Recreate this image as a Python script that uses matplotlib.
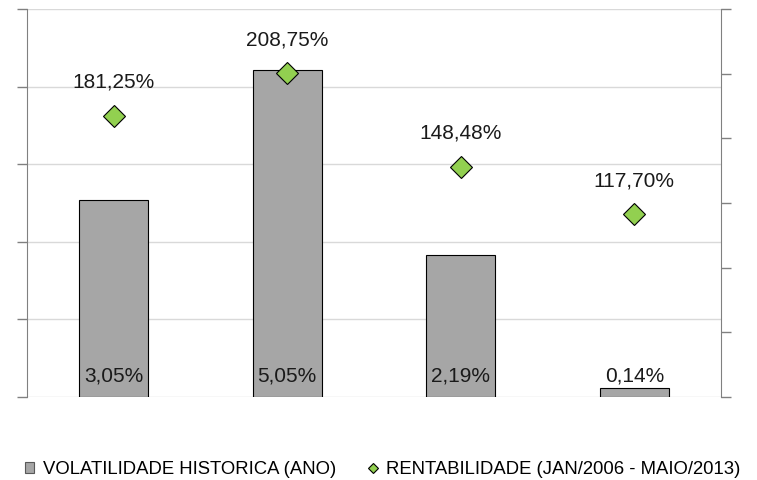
import matplotlib.pyplot as plt
import numpy as np

plt.rcParams['font.family'] = ['Liberation Sans', 'DejaVu Sans']

categories = ['A', 'B', 'C', 'D']
volatilidade = [3.05, 5.05, 2.19, 0.14]
rentabilidade = [181.25, 208.75, 148.48, 117.70]
vol_labels = ['3,05%', '5,05%', '2,19%', '0,14%']
rent_labels = ['181,25%', '208,75%', '148,48%', '117,70%']

fig = plt.figure(figsize=(7.57, 4.8), dpi=100)
ax = fig.add_axes([27/757, 83/480, 694/757, 388/480])
ax2 = ax.twinx()

x = np.arange(len(categories))

# bars - left axis
bars = ax.bar(x, volatilidade, width=0.4, color='#a6a6a6', edgecolor='black',
              linewidth=0.8, label='VOLATILIDADE HISTORICA (ANO)', zorder=2)
ax.set_xlim(-0.5, 3.5)
ax.set_ylim(0, 6)
ax.set_yticks(np.linspace(0, 6, 6))
ax.set_yticklabels([])
ax.set_xticks([])
ax.grid(axis='y', color='#d9d9d9', linewidth=1, zorder=0)
ax.set_axisbelow(True)
for xi, lab in zip(x, vol_labels):
    ax.annotate(lab, (xi, 0), xytext=(0, 15), textcoords='offset points',
                ha='center', va='center', fontsize=15, color='#1a1a1a')

# diamonds - right axis
ax2.plot(x, rentabilidade, linestyle='none', marker='D', markersize=11,
         markerfacecolor='#92d050', markeredgecolor='black', markeredgewidth=0.8,
         label='RENTABILIDADE (JAN/2006 - MAIO/2013)', zorder=3)
ax2.set_ylim(0, 250)
ax2.set_yticks(np.linspace(0, 250, 7))
ax2.set_yticklabels([])
for xi, yi, lab in zip(x, rentabilidade, rent_labels):
    ax2.annotate(lab, (xi, yi), xytext=(0, 24), textcoords='offset points',
                 ha='center', va='center', fontsize=15, color='#1a1a1a')

for a in (ax, ax2):
    a.spines['top'].set_visible(False)
    a.spines['bottom'].set_visible(False)
    a.spines['left'].set_color('#808080')
    a.spines['right'].set_color('#808080')
    a.tick_params(axis='y', colors='#808080', length=7, width=1)
ax.spines['right'].set_visible(False)
ax2.spines['left'].set_visible(False)

h1, l1 = ax.get_legend_handles_labels()
h2, l2 = ax2.get_legend_handles_labels()
leg = fig.legend(h1 + h2, l1 + l2, loc='center left', bbox_to_anchor=(25/757, 0.022),
                 ncol=2, frameon=False, fontsize=13.3, handlelength=0.5, handleheight=0.5,
                 handletextpad=0.45, columnspacing=1.75, markerscale=0.45, borderpad=0,
                 borderaxespad=0)
leg.legend_handles[0].set_edgecolor('#595959')

fig.savefig('out.png', dpi=100)
